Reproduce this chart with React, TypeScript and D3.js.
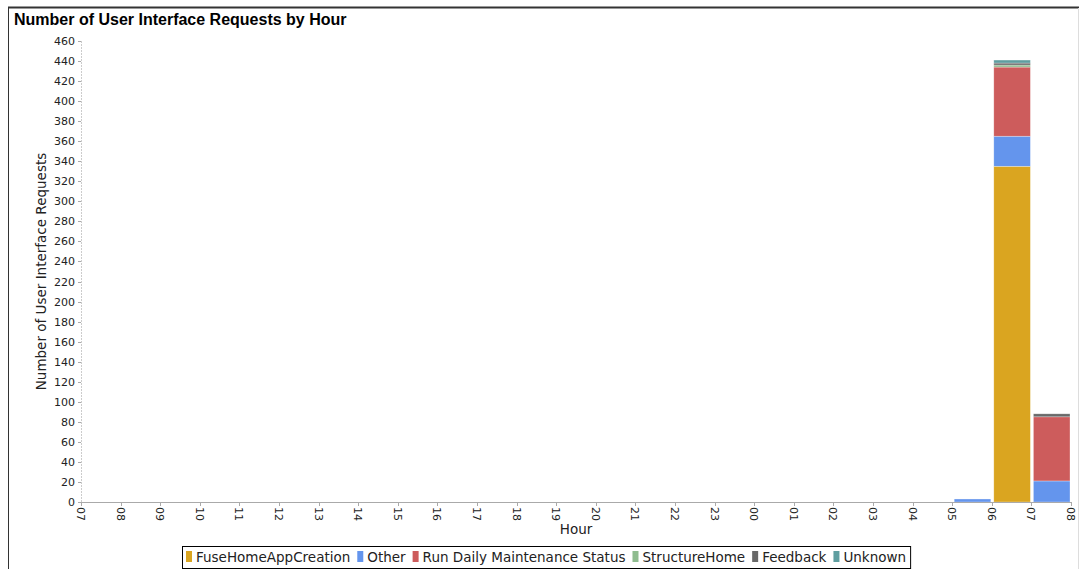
import React from "react";
import * as d3 from "d3";

const seriesNames = ["FuseHomeAppCreation", "Other", "Run Daily Maintenance Status", "StructureHome", "Feedback", "Unknown"];
const seriesColors = ["#DAA520", "#6495ED", "#CD5C5C", "#8FBC8F", "#696969", "#5F9EA0"];

// hour bucket start
const bucketStarts = ["2020-01-02T05:00", "2020-01-02T06:00", "2020-01-02T07:00"];
const fuseHome = [0, 335, 0];
const other = [3, 30, 21];
const runDaily = [0, 69, 64];
const structureHome = [0, 2, 0];
const feedback = [0, 2, 3];
const unknown = [0, 3, 0];

const yTicks = d3.range(0, 461, 20);
const xStart = "2020-01-01T07:00";
const xEnd = "2020-01-02T08:00";

const W = 1080, H = 569;
const margin = { left: 81, right: 1071, top: 41, bottom: 502 };

function measure(text: string, font: string): number {
  const c = document.createElement("canvas").getContext("2d")!;
  c.font = font;
  return c.measureText(text).width;
}

export default function App() {
  const parse = (s: string) => new Date(s);
  const x = d3.scaleTime().domain([parse(xStart), parse(xEnd)]).range([margin.left, margin.right]);
  const y = d3.scaleLinear().domain([0, 460]).range([margin.bottom, margin.top]);
  const xTicks = x.ticks(d3.timeHour.every(1)!);
  const fmt = d3.timeFormat("%H");

  const table = bucketStarts.map((s, i) => ({
    t: parse(s),
    FuseHomeAppCreation: fuseHome[i],
    Other: other[i],
    "Run Daily Maintenance Status": runDaily[i],
    StructureHome: structureHome[i],
    Feedback: feedback[i],
    Unknown: unknown[i],
  }));
  const stack = d3.stack<any>().keys(seriesNames)(table);

  const legendFont = "13.5px 'DejaVu Sans'";
  const items = seriesNames.map((n) => ({ n, w: measure(n, legendFont) }));
  let lx = 186;
  const legendItems = items.map((it, i) => {
    const pos = { ...it, x: lx, color: seriesColors[i] };
    lx += 10 + it.w + 7;
    return pos;
  });
  const legendRight = lx - 3;

  return (
    <div style={{ position: "absolute", left: 0, top: 0 }}>
      <svg width={W} height={H} style={{ display: "block", fontFamily: "'DejaVu Sans'" }}>
        <rect x={0} y={0} width={W} height={H} fill="#fff" />
        {/* frame */}
        <line x1={8} x2={1079} y1={7.5} y2={7.5} stroke="#333" strokeWidth={1.8} />
        <line x1={8.5} x2={8.5} y1={7} y2={H} stroke="#333" strokeWidth={1} />
        <line x1={1078.5} x2={1078.5} y1={8} y2={H} stroke="#ddd" strokeWidth={1} />
        <text x={14} y={25} fontFamily="'Liberation Sans', Arial" fontWeight="bold" fontSize={16} fill="#000">
          Number of User Interface Requests by Hour
        </text>

        {/* y axis */}
        <line x1={margin.left + 0.5} x2={margin.left + 0.5} y1={margin.top} y2={margin.bottom} stroke="#ccc" strokeDasharray="2,1" />
        {yTicks.map((v) => (
          <g key={v}>
            <line x1={margin.left - 3} x2={margin.left} y1={Math.round(y(v)) + 0.5} y2={Math.round(y(v)) + 0.5} stroke="#aaa" />
            <text x={75} y={y(v) + 4} textAnchor="end" fontSize={11} fill="#222">{v}</text>
          </g>
        ))}
        <text transform={`translate(46,${(margin.top + margin.bottom) / 2}) rotate(-90)`} textAnchor="middle" fontSize={13.5} fill="#222">
          Number of User Interface Requests
        </text>

        {/* bars */}
        {stack.map((layer, si) =>
          layer.map((d, i) => {
            const h = y(d[0]) - y(d[1]);
            if (h <= 0) return null;
            const t0 = table[i].t;
            const t1 = d3.timeHour.offset(t0, 1);
            return (
              <rect key={`${si}-${i}`} x={x(t0) + 2} width={x(t1) - x(t0) - 3} y={y(d[1])} height={h}
                fill={seriesColors[si]} stroke="#fff" strokeOpacity={0.5} strokeWidth={0.6} />
            );
          })
        )}

        {/* x axis */}
        <line x1={margin.left} x2={margin.right + 1} y1={margin.bottom + 0.5} y2={margin.bottom + 0.5} stroke="#aaa" />
        {xTicks.map((t, i) => (
          <g key={i}>
            <line x1={Math.round(x(t)) + 0.5} x2={Math.round(x(t)) + 0.5} y1={margin.bottom} y2={margin.bottom + 4} stroke="#aaa" />
            <text transform={`translate(${x(t) - 4},${margin.bottom + 5}) rotate(90)`} fontSize={11} fill="#222">{fmt(t)}</text>
          </g>
        ))}
        <text x={(margin.left + margin.right) / 2} y={534} textAnchor="middle" fontSize={13.5} fill="#222">Hour</text>

        {/* legend */}
        <rect x={182.5} y={546.5} width={legendRight - 182} height={22} fill="#fff" stroke="#000" />
        {legendItems.map((it) => (
          <g key={it.n}>
            <rect x={it.x} y={551} width={6} height={11} fill={it.color} />
            <text x={it.x + 10} y={562} fontSize={13.5} fill="#222">{it.n}</text>
          </g>
        ))}
      </svg>
    </div>
  );
}
